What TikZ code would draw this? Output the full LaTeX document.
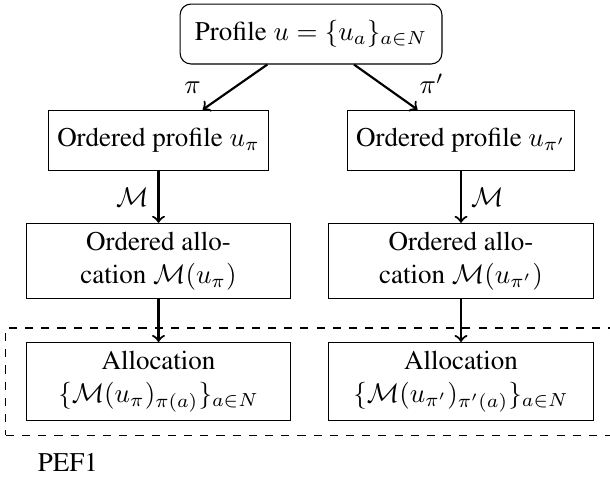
\documentclass[tikz,border=0pt]{standalone}
\usepackage[T1]{fontenc}
\usepackage{times}
\usetikzlibrary{positioning,fit}

\begin{document}
\begin{tikzpicture}[>=to,auto,node distance=1.57cm,
        start node/.style={draw,rounded corners,minimum width=3.41cm,minimum height=0.78cm},
        main node/.style={draw,minimum height=0.79cm},
        wide node/.style={draw,align=center,minimum width=3.44cm,minimum height=0.98cm}]
        \useasboundingbox (-4.05,0.443) rectangle (3.893,-5.768);
        \node[start node] (u) at (0,0) {Profile $u=\{u_a\}_{a\in N}$};
        \node[main node] (up) at (-1.986,-1.387) {Ordered profile $u_\pi$};
        \node[main node] (upp) at (1.953,-1.387) {Ordered profile $u_{\pi'}$};
        \node[wide node] (Mp) [below of=up] {Ordered allo-\\cation $\mathcal{M}(u_\pi)$};
        \node[wide node] (Mpp) [below of=upp] {Ordered allo-\\cation $\mathcal{M}(u_{\pi'})$};
        \node[wide node] (Ap) [below of=Mp] {Allocation\\$\{\mathcal{M}(u_\pi)_{\pi(a)}\}_{a\in N}$};
        \node[wide node] (App) [below of=Mpp] {Allocation\\$\{\mathcal{M}(u_{\pi'})_{\pi'(a)}\}_{a\in N}$};
        \node[draw,dashed,inner xsep=7.4pt,inner ysep=5.2pt,fit=(Ap) (App)] (pef) {};
        \node[below right=3pt and 8.5pt of pef.south west] (pefname) {PEF1};

        \path[->,thick]
        (u) edge node [swap,very near end] {$\pi$} (up)
        (u) edge node [very near end] {$\pi'$} (upp)
        (up) edge node [swap] {$\mathcal{M}$} (Mp)
        (upp) edge node {$\mathcal{M}$} (Mpp)
        (Mp) edge (Ap)
        (Mpp) edge (App)
        ;
\end{tikzpicture}
\end{document}
